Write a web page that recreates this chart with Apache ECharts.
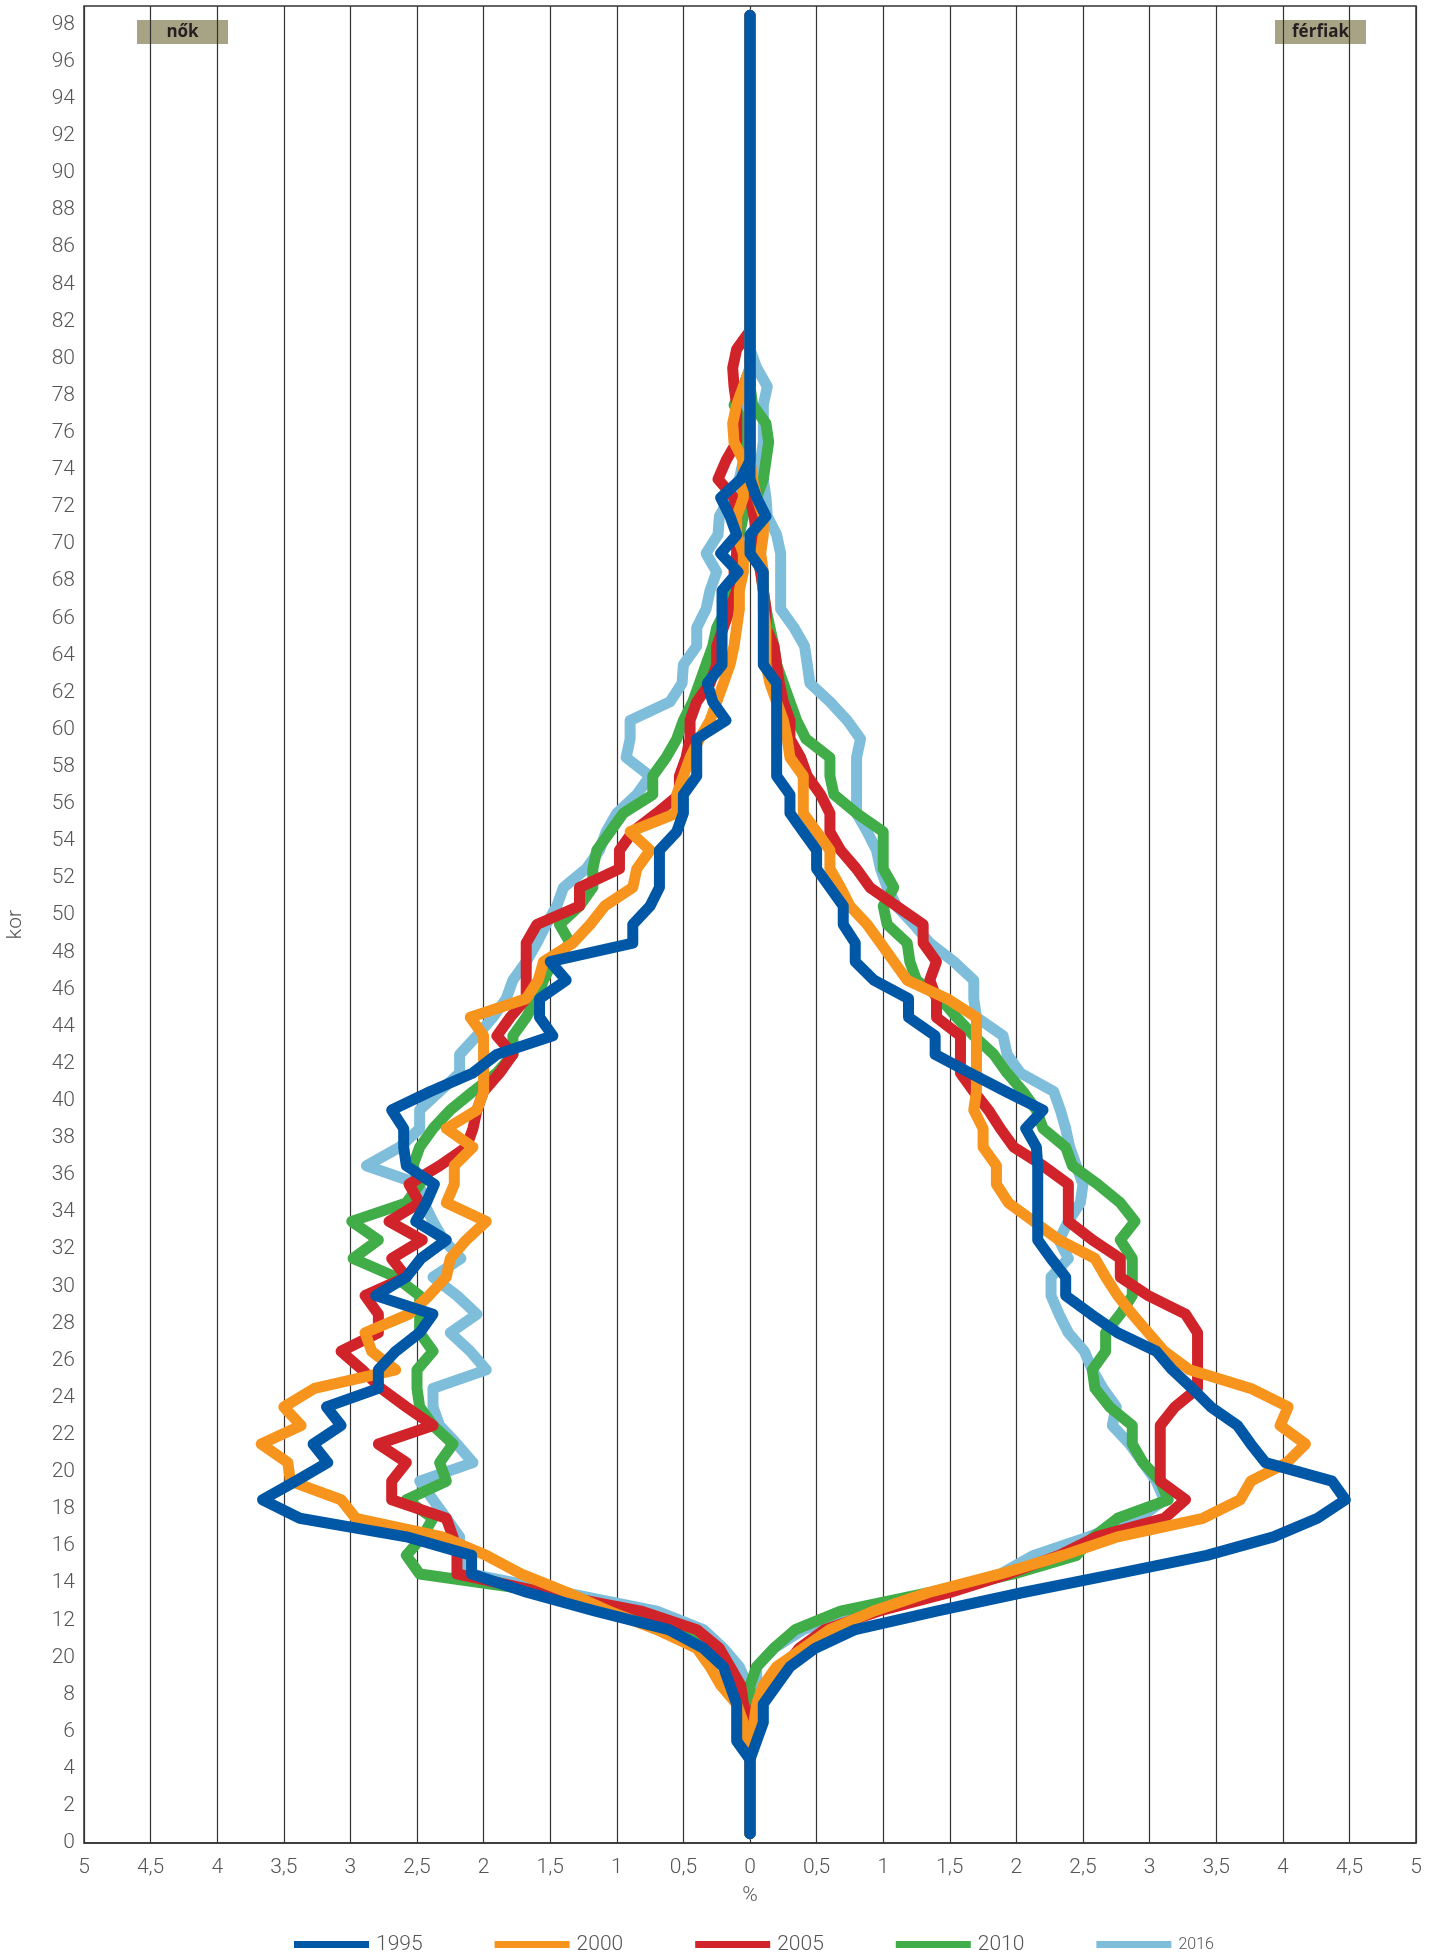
<!DOCTYPE html>
<html>
<head>
<meta charset="utf-8">
<title>kor szerinti megoszlás</title>
<script src="https://cdn.jsdelivr.net/npm/echarts@6/dist/echarts.min.js"></script>
<style>
html, body { margin: 0; padding: 0; background: #fff; }
#chart { width: 1440px; height: 1954px; }
</style>
</head>
<body>
<div id="chart"></div>
<script>
// one row per year of age, 0..98 (each point sits in the middle of its year band)
const ages = Array.from({ length: 99 }, (_, i) => String(i))

// labels of the age scale, every 2 years (the original has "20" written at 10)
const ageTickLabels = ['0', '2', '4', '6', '8', '20', '12', '14', '16', '18',
  '20', '22', '24', '26', '28', '30', '32', '34', '36', '38',
  '40', '42', '44', '46', '48', '50', '52', '54', '56', '58',
  '60', '62', '64', '66', '68', '70', '72', '74', '76', '78',
  '80', '82', '84', '86', '88', '90', '92', '94', '96', '98']

const years = ['1995', '2000', '2005', '2010', '2016']
const colors = ['#0057A6', '#F7941D', '#D1232A', '#41AD49', '#7FBEDB']

// share of each age in %, women (drawn to the left) and men (to the right)
const women1995 = [
  0, 0, 0, 0, 0, 0.1, 0.1, 0.1, 0.15, 0.2,
  0.35, 0.61, 1.16, 1.67, 2.09, 2.09, 2.58, 3.38, 3.66, 3.41,
  3.17, 3.28, 3.07, 3.18, 2.79, 2.79, 2.66, 2.48, 2.38, 2.81,
  2.58, 2.47, 2.28, 2.51, 2.43, 2.37, 2.58, 2.6, 2.6, 2.69,
  2.4, 2.08, 1.9, 1.48, 1.58, 1.58, 1.38, 1.5, 0.88, 0.88,
  0.75, 0.68, 0.68, 0.68, 0.55, 0.5, 0.5, 0.4, 0.4, 0.4,
  0.18, 0.28, 0.32, 0.21, 0.21, 0.21, 0.21, 0.21, 0.09, 0.22,
  0.1, 0.15, 0.22, 0.07, 0, 0, 0, 0, 0, 0,
  0, 0, 0, 0, 0, 0, 0, 0, 0, 0,
  0, 0, 0, 0, 0, 0, 0, 0, 0]
const men1995 = [
  0, 0, 0, 0, 0, 0.05, 0.1, 0.1, 0.2, 0.3,
  0.49, 0.79, 1.4, 2.05, 2.75, 3.43, 3.93, 4.26, 4.47, 4.37,
  3.87, 3.76, 3.66, 3.46, 3.32, 3.17, 3.05, 2.76, 2.56, 2.37,
  2.37, 2.26, 2.16, 2.16, 2.16, 2.16, 2.16, 2.15, 2.07, 2.2,
  1.92, 1.65, 1.39, 1.39, 1.19, 1.19, 0.93, 0.79, 0.79, 0.7,
  0.7, 0.6, 0.5, 0.5, 0.4, 0.3, 0.3, 0.2, 0.2, 0.2,
  0.2, 0.2, 0.2, 0.1, 0.1, 0.1, 0.1, 0.1, 0.1, 0,
  0, 0.12, 0.05, 0, 0, 0, 0, 0, 0, 0,
  0, 0, 0, 0, 0, 0, 0, 0, 0, 0,
  0, 0, 0, 0, 0, 0, 0, 0, 0]

const women2000 = [
  0, 0, 0, 0, 0, 0.02, 0.05, 0.1, 0.22, 0.3,
  0.4, 0.7, 1.06, 1.37, 1.72, 1.98, 2.31, 2.96, 3.07, 3.45,
  3.47, 3.67, 3.37, 3.5, 3.27, 2.66, 2.84, 2.89, 2.56, 2.41,
  2.28, 2.25, 2.13, 1.98, 2.28, 2.22, 2.22, 2.08, 2.28, 2.05,
  2.0, 2.0, 2.0, 2.0, 2.1, 1.68, 1.59, 1.55, 1.33, 1.2,
  1.09, 0.88, 0.85, 0.75, 0.9, 0.55, 0.55, 0.5, 0.45, 0.38,
  0.3, 0.25, 0.2, 0.15, 0.12, 0.1, 0.08, 0.08, 0.05, 0.05,
  0.1, 0.1, 0.05, 0.05, 0.05, 0.12, 0.13, 0.1, 0.05, 0,
  0, 0, 0, 0, 0, 0, 0, 0, 0, 0,
  0, 0, 0, 0, 0, 0, 0, 0, 0]
const men2000 = [
  0, 0, 0, 0, 0, 0.02, 0.03, 0.05, 0.1, 0.2,
  0.4, 0.6, 0.93, 1.34, 1.88, 2.35, 2.76, 3.4, 3.68, 3.76,
  4.03, 4.17, 3.98, 4.04, 3.76, 3.3, 3.11, 2.99, 2.87, 2.76,
  2.67, 2.59, 2.32, 2.13, 1.94, 1.85, 1.85, 1.75, 1.75, 1.68,
  1.7, 1.7, 1.7, 1.7, 1.7, 1.48, 1.18, 1.08, 0.98, 0.88,
  0.75, 0.68, 0.6, 0.6, 0.5, 0.4, 0.4, 0.4, 0.3, 0.28,
  0.25, 0.2, 0.15, 0.12, 0.12, 0.12, 0.1, 0.1, 0.1, 0.08,
  0.1, 0.1, 0.05, 0.02, 0, 0, 0, 0, 0, 0,
  0, 0, 0, 0, 0, 0, 0, 0, 0, 0,
  0, 0, 0, 0, 0, 0, 0, 0, 0]

const women2005 = [
  0, 0, 0, 0, 0, 0, 0.01, 0.05, 0.07, 0.15,
  0.23, 0.4, 0.82, 1.55, 2.2, 2.2, 2.23, 2.28, 2.69, 2.69,
  2.58, 2.79, 2.38, 2.58, 2.77, 2.91, 3.07, 2.79, 2.79, 2.89,
  2.58, 2.69, 2.46, 2.71, 2.48, 2.56, 2.33, 2.13, 2.08, 2.05,
  2.0, 1.88, 1.78, 1.9, 1.8, 1.68, 1.68, 1.68, 1.68, 1.6,
  1.28, 1.28, 0.98, 0.98, 0.88, 0.7, 0.53, 0.53, 0.48, 0.45,
  0.45, 0.4, 0.3, 0.25, 0.25, 0.2, 0.15, 0.1, 0.12, 0.1,
  0.1, 0.1, 0.12, 0.24, 0.18, 0.1, 0.1, 0.1, 0.12, 0.13,
  0.1, 0, 0, 0, 0, 0, 0, 0, 0, 0,
  0, 0, 0, 0, 0, 0, 0, 0, 0]
const men2005 = [
  0, 0, 0, 0, 0, 0, 0, 0.05, 0.15, 0.26,
  0.37, 0.56, 0.97, 1.5, 1.94, 2.32, 2.6, 3.11, 3.27, 3.08,
  3.08, 3.08, 3.08, 3.19, 3.36, 3.36, 3.36, 3.36, 3.27, 2.99,
  2.78, 2.78, 2.57, 2.39, 2.39, 2.39, 2.2, 1.98, 1.88, 1.79,
  1.68, 1.58, 1.58, 1.58, 1.4, 1.4, 1.35, 1.4, 1.3, 1.3,
  1.1, 0.9, 0.8, 0.68, 0.6, 0.6, 0.53, 0.43, 0.38, 0.3,
  0.3, 0.25, 0.22, 0.2, 0.18, 0.12, 0.12, 0.1, 0.08, 0.05,
  0.05, 0.03, 0, 0, 0, 0, 0, 0, 0, 0,
  0, 0, 0, 0, 0, 0, 0, 0, 0, 0,
  0, 0, 0, 0, 0, 0, 0, 0, 0]

const women2010 = [
  0, 0, 0, 0, 0, 0, 0, 0.03, 0.08, 0.15,
  0.3, 0.5, 0.9, 1.5, 2.48, 2.58, 2.46, 2.38, 2.58, 2.28,
  2.33, 2.23, 2.38, 2.48, 2.5, 2.5, 2.38, 2.48, 2.48, 2.48,
  2.66, 2.98, 2.79, 2.99, 2.58, 2.48, 2.53, 2.48, 2.38, 2.25,
  2.08, 1.9, 1.78, 1.78, 1.68, 1.6, 1.55, 1.48, 1.35, 1.43,
  1.28, 1.18, 1.18, 1.15, 1.05, 0.95, 0.73, 0.73, 0.63, 0.55,
  0.5, 0.43, 0.38, 0.33, 0.28, 0.25, 0.18, 0.14, 0.1, 0.1,
  0.08, 0.05, 0.05, 0.05, 0.05, 0.05, 0.05, 0.12, 0.05, 0,
  0, 0, 0, 0, 0, 0, 0, 0, 0, 0,
  0, 0, 0, 0, 0, 0, 0, 0, 0]
const men2010 = [
  0, 0, 0, 0, 0, 0, 0, 0, 0, 0.05,
  0.18, 0.34, 0.68, 1.35, 1.98, 2.45, 2.58, 2.76, 3.14, 3.08,
  2.95, 2.87, 2.87, 2.7, 2.59, 2.57, 2.67, 2.67, 2.78, 2.87,
  2.87, 2.87, 2.78, 2.89, 2.78, 2.61, 2.42, 2.37, 2.2, 2.15,
  2.05, 1.93, 1.83, 1.68, 1.55, 1.43, 1.25, 1.2, 1.18, 1.03,
  1.0, 1.08, 1.0, 1.0, 1.0, 0.8, 0.63, 0.6, 0.6, 0.42,
  0.35, 0.3, 0.25, 0.2, 0.18, 0.15, 0.12, 0.1, 0.08, 0.05,
  0.05, 0.05, 0.05, 0.1, 0.12, 0.14, 0.12, 0.02, 0, 0,
  0, 0, 0, 0, 0, 0, 0, 0, 0, 0,
  0, 0, 0, 0, 0, 0, 0, 0, 0]

const women2016 = [
  0, 0, 0, 0, 0, 0, 0, 0, 0.02, 0.08,
  0.2, 0.35, 0.7, 1.4, 2.1, 2.18, 2.18, 2.28, 2.38, 2.48,
  2.08, 2.2, 2.33, 2.38, 2.38, 1.98, 2.1, 2.25, 2.05, 2.2,
  2.38, 2.17, 2.3, 2.38, 2.45, 2.48, 2.88, 2.63, 2.48, 2.48,
  2.33, 2.18, 2.18, 2.05, 1.93, 1.83, 1.78, 1.68, 1.6, 1.53,
  1.45, 1.4, 1.23, 1.13, 1.08, 1.0, 0.85, 0.75, 0.93, 0.9,
  0.9, 0.6, 0.51, 0.5, 0.4, 0.4, 0.33, 0.3, 0.25, 0.33,
  0.24, 0.23, 0.15, 0.08, 0.05, 0.05, 0.05, 0.02, 0, 0,
  0, 0, 0, 0, 0, 0, 0, 0, 0, 0,
  0, 0, 0, 0, 0, 0, 0, 0, 0]
const men2016 = [
  0, 0, 0, 0, 0, 0, 0, 0, 0.05, 0.05,
  0.18, 0.4, 0.81, 1.41, 1.88, 2.13, 2.54, 2.92, 3.11, 3.05,
  2.95, 2.85, 2.72, 2.75, 2.65, 2.57, 2.51, 2.39, 2.32, 2.26,
  2.26, 2.39, 2.32, 2.39, 2.48, 2.5, 2.45, 2.4, 2.37, 2.33,
  2.28, 2.03, 1.93, 1.9, 1.7, 1.68, 1.68, 1.53, 1.35, 1.23,
  1.1, 1.03, 0.98, 0.95, 0.88, 0.8, 0.8, 0.8, 0.8, 0.83,
  0.73, 0.6, 0.45, 0.43, 0.41, 0.33, 0.23, 0.23, 0.23, 0.23,
  0.2, 0.13, 0.12, 0.1, 0.08, 0.1, 0.1, 0.1, 0.13, 0.05,
  0, 0, 0, 0, 0, 0, 0, 0, 0, 0,
  0, 0, 0, 0, 0, 0, 0, 0, 0]

const womenByYear = [women1995, women2000, women2005, women2010, women2016]
const menByYear = [men1995, men2000, men2005, men2010, men2016]

const labelFont = { fontFamily: 'Roboto', fontWeight: 300, fontSize: 21, color: '#555' }

function lineSeries(name, color, values) {
  return {
    name: name,
    type: 'line',
    yAxisIndex: 0,
    data: values,
    symbol: 'none',
    color: color,
    lineStyle: { width: 11, color: color, cap: 'round', join: 'round' },
    emphasis: { disabled: true },
    animation: false
  }
}

// later years lie underneath, 1995 is on top
const series = []
for (let i = years.length - 1; i >= 0; i--) {
  series.push(lineSeries(years[i], colors[i], womenByYear[i].map(v => -v)))
  series.push(lineSeries(years[i], colors[i], menByYear[i]))
}

const chart = echarts.init(document.getElementById('chart'), null, { renderer: 'canvas' })
chart.setOption({
  animation: false,
  grid: {
    left: 84,
    right: 24,
    top: 6,
    bottom: 111,
    show: true,
    borderColor: '#333',
    borderWidth: 1.5
  },
  xAxis: {
    type: 'value',
    min: -5,
    max: 5,
    interval: 0.5,
    name: '%',
    nameLocation: 'middle',
    nameGap: 42,
    nameTextStyle: labelFont,
    axisLine: { show: true, lineStyle: { color: '#333', width: 1.5 } },
    axisTick: { show: false },
    axisLabel: Object.assign({}, labelFont, {
      margin: 14,
      formatter: v => String(Math.abs(Math.round(v * 10) / 10)).replace('.', ',')
    }),
    splitLine: { show: true, lineStyle: { color: '#333', width: 1.2 } }
  },
  yAxis: [
    {
      type: 'category',
      data: ages,
      boundaryGap: true,
      show: false
    },
    {
      type: 'value',
      position: 'left',
      min: 0,
      max: 99,
      interval: 2,
      axisLine: { show: false },
      axisTick: { show: false },
      splitLine: { show: false },
      axisLabel: Object.assign({}, labelFont, {
        margin: 9,
        showMaxLabel: false,
        formatter: v => ageTickLabels[v / 2] !== undefined ? ageTickLabels[v / 2] : ''
      })
    }
  ],
  legend: {
    data: years,
    left: 289,
    top: 1929,
    icon: 'rect',
    itemWidth: 75,
    itemHeight: 7,
    itemGap: 72,
    selectedMode: false,
    textStyle: Object.assign({}, labelFont, {
      padding: [0, 0, 0, 2],
      rich: { s: { fontFamily: 'Roboto', fontWeight: 300, fontSize: 16, color: '#555' } }
    }),
    formatter: name => name === '2016' ? '{s|2016}' : name
  },
  graphic: [
    {
      type: 'text',
      left: 5,
      top: 910,
      rotation: Math.PI / 2,
      style: { text: 'kor', font: '300 21px Roboto', fill: '#555' }
    },
    {
      type: 'group',
      left: 137,
      top: 20,
      children: [
        { type: 'rect', shape: { x: 0, y: 0, width: 91, height: 24 }, style: { fill: '#A7A385' } },
        { type: 'text', x: 45.5, y: 12, style: { text: 'nők', font: 'bold 17px "Open Sans"', fill: '#231F20', align: 'center', verticalAlign: 'middle' } }
      ]
    },
    {
      type: 'group',
      left: 1275,
      top: 20,
      children: [
        { type: 'rect', shape: { x: 0, y: 0, width: 91, height: 24 }, style: { fill: '#A7A385' } },
        { type: 'text', x: 45.5, y: 12, style: { text: 'férfiak', font: 'bold 17px "Open Sans"', fill: '#231F20', align: 'center', verticalAlign: 'middle' } }
      ]
    }
  ],
  series: series
})
</script>
</body>
</html>
